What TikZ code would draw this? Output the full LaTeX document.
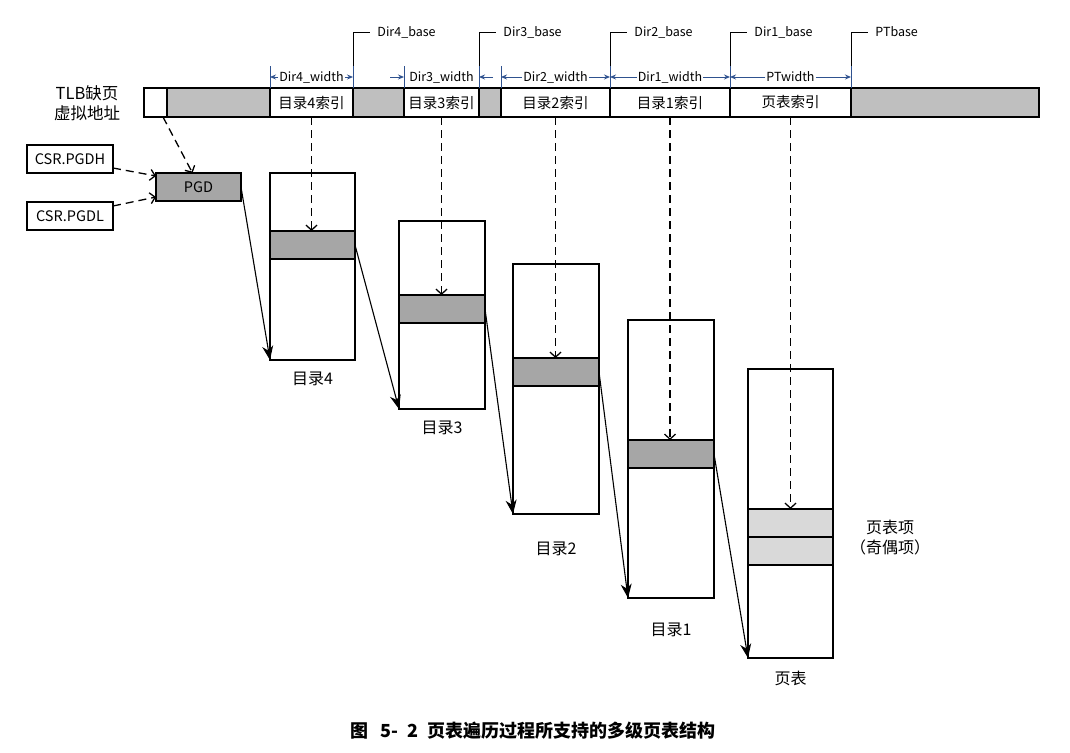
\documentclass[tikz,border=0pt]{standalone}
\usepackage{fontspec}
\setmainfont{Noto Sans CJK SC}
\usetikzlibrary{arrows.meta,positioning}
\definecolor{pgbar}{RGB}{191,191,191}
\definecolor{pgent}{RGB}{166,166,166}
\definecolor{pglight}{RGB}{217,217,217}
\definecolor{pgblue}{RGB}{47,82,143}

\begin{document}
\begin{tikzpicture}[x=1pt,y=-1pt,
  cell/.style={draw,line width=1.2pt,minimum height=29pt,inner sep=0pt,outer sep=0pt,font=\fontsize{14.5}{16}\selectfont},
  tbl/.style={draw,line width=1.2pt,inner sep=0pt,outer sep=0pt},
  ent/.style={draw,line width=1.2pt,fill=pgent,minimum width=86pt,minimum height=28pt,inner sep=0pt,outer sep=0pt},
  csr/.style={draw,line width=1.2pt,minimum width=86pt,minimum height=28pt,inner sep=0pt,outer sep=0pt,font=\fontsize{14.5}{16}\selectfont},
  lbl/.style={font=\fontsize{16}{20}\selectfont,align=center,inner sep=1pt},
  dl/.style={font=\fontsize{12.5}{14}\selectfont,inner sep=1pt},
  baseln/.style={line width=0.9pt},
  tick/.style={draw=pgblue,line width=0.9pt},
  wid/.style={draw=pgblue,line width=0.9pt,-{Stealth[length=6pt,width=5pt]}},
  ptr/.style={line width=1.3pt,dash pattern=on 8pt off 5pt,-{Straight Barb[length=5pt,width=11pt]}},
  lnk/.style={line width=1.1pt,-{Stealth[length=14pt,width=11pt]}}]
\useasboundingbox (0,0) rectangle (1070,752);

% virtual address bar
\node[cell,minimum width=23pt] (seg0) at (155.5,102.5) {};
\node[cell,fill=pgbar,minimum width=103pt] (g1) at (218.5,102.5) {};
\node[cell,minimum width=83pt] (idx4) at (311.5,102.5) {目录4索引};
\node[cell,fill=pgbar,minimum width=51pt] (g2) at (378.5,102.5) {};
\node[cell,minimum width=75pt] (idx3) at (441.5,102.5) {目录3索引};
\node[cell,fill=pgbar,minimum width=22pt] (g3) at (490,102.5) {};
\node[cell,minimum width=109pt] (idx2) at (555.5,102.5) {目录2索引};
\node[cell,minimum width=120pt] (idx1) at (670,102.5) {目录1索引};
\node[cell,minimum width=121pt] (idxpt) at (790.5,102.5) {页表索引};
\node[cell,fill=pgbar,minimum width=188pt] (g4) at (945,102.5) {};
\node[lbl,font=\fontsize{16.5}{20}\selectfont] (va) at (87,103) {TLB缺页\\虚拟地址};

% base markers
\draw[baseln] (idx4.north east) |- ++(17,-56) node[dl,right=6pt]{Dir4\_base};
\draw[baseln] (idx3.north east) |- ++(17,-56) node[dl,right=6pt]{Dir3\_base};
\draw[baseln] (idx2.north east) |- ++(17,-56) node[dl,right=6pt]{Dir2\_base};
\draw[baseln] (idx1.north east) |- ++(17,-56) node[dl,right=6pt]{Dir1\_base};
\draw[baseln] (idxpt.north east) |- ++(17,-56) node[dl,right=6pt]{PTbase};

% field widths
\foreach \c in {idx4.north west,idx4.north east,idx3.north west,idx3.north east,
  idx2.north west,idx2.north east,idx1.north east,idxpt.north east}
  \draw[tick] (\c) -- ++(0,-22);
\node[dl] (w4) at (311.5,77) {Dir4\_width};
\node[dl] (w3) at (441.5,77) {Dir3\_width};
\node[dl] (w2) at (555.5,77) {Dir2\_width};
\node[dl] (w1) at (670,77) {Dir1\_width};
\node[dl] (wpt) at (790.5,77) {PTwidth};
\coordinate (w3l) at (390,77);
\coordinate (w3r) at (493,77);
\draw[wid] (w4.west) -- (w4 -| idx4.west);
\draw[wid] (w4.east) -- (w4 -| idx4.east);
\draw[wid] (w3l) -- (w3 -| idx3.west);
\draw[wid] (w3r) -- (w3 -| idx3.east);
\draw[wid] (w2.west) -- (w2 -| idx2.west);
\draw[wid] (w2.east) -- (w2 -| idx2.east);
\draw[wid] (w1.west) -- (w1 -| idx1.west);
\draw[wid] (w1.east) -- (w1 -| idx1.east);
\draw[wid] (wpt.west) -- (wpt -| idxpt.west);
\draw[wid] (wpt.east) -- (wpt -| idxpt.east);

% root registers
\node[csr] (csrh) at (70,159) {CSR.PGDH};
\node[csr] (csrl) at (70,216) {CSR.PGDL};
\node[csr,fill=pgent,minimum width=85pt] (pgd) at (198.5,187) {PGD};
\draw[ptr] ([yshift=-9pt]csrh.east) -- ([yshift=11pt]pgd.west);
\draw[ptr] ([yshift=10pt]csrl.east) -- ([yshift=-10pt]pgd.west);
\draw[ptr] ([xshift=-4pt]seg0.south east) -- ([xshift=-6pt]pgd.north);

% tables
\node[tbl,minimum width=85pt,minimum height=187pt] (d4) at (312.5,266.5) {};
\node[ent,minimum width=85pt] (e4) at (312.5,245) {};
\node[tbl,minimum width=86pt,minimum height=188pt] (d3) at (442,315) {};
\node[ent] (e3) at (442,309) {};
\node[tbl,minimum width=86pt,minimum height=250pt] (d2) at (556,389) {};
\node[ent] (e2) at (556,372) {};
\node[tbl,minimum width=86pt,minimum height=278pt] (d1) at (671,459) {};
\node[ent] (e1) at (671,454) {};
\node[tbl,minimum width=85pt,minimum height=289pt] (pt) at (790.5,513.5) {};
\node[ent,fill=pglight,minimum width=85pt] (pte1) at (790.5,523) {};
\node[ent,fill=pglight,minimum width=85pt] (pte2) at (790.5,551) {};
\node[lbl,below=11pt of d4] {目录4};
\node[lbl,below=11pt of d3] {目录3};
\node[lbl,below=27pt of d2] {目录2};
\node[lbl,below=24pt of d1] {目录1};
\node[lbl,below=12pt of pt] {页表};
\node[lbl] (ptlbl) at (890,538) {页表项\\（奇偶项）};

% index lookups
\draw[ptr] (idx4.south) -- (idx4.south |- e4.north);
\draw[ptr] (idx3.south) -- (idx3.south |- e3.north);
\draw[ptr] (idx2.south) -- (idx2.south |- e2.north);
\draw[ptr] (idx1.south) -- (idx1.south |- e1.north);
\draw[ptr] (idxpt.south) -- (idxpt.south |- pte1.north);

% next-level bases
\draw[lnk] (pgd.east) -- (d4.south west);
\draw[lnk] (e4.east) -- (d3.south west);
\draw[lnk] (e3.east) -- (d2.south west);
\draw[lnk] (e2.east) -- (d1.south west);
\draw[lnk] (e1.east) -- (pt.south west);

\node[font=\fontsize{18}{20}\selectfont\bfseries] (cap) at (533,731) {图\hspace{0.7em}5-\hspace{0.5em}2\hspace{0.5em}页表遍历过程所支持的多级页表结构};
\end{tikzpicture}
\end{document}
